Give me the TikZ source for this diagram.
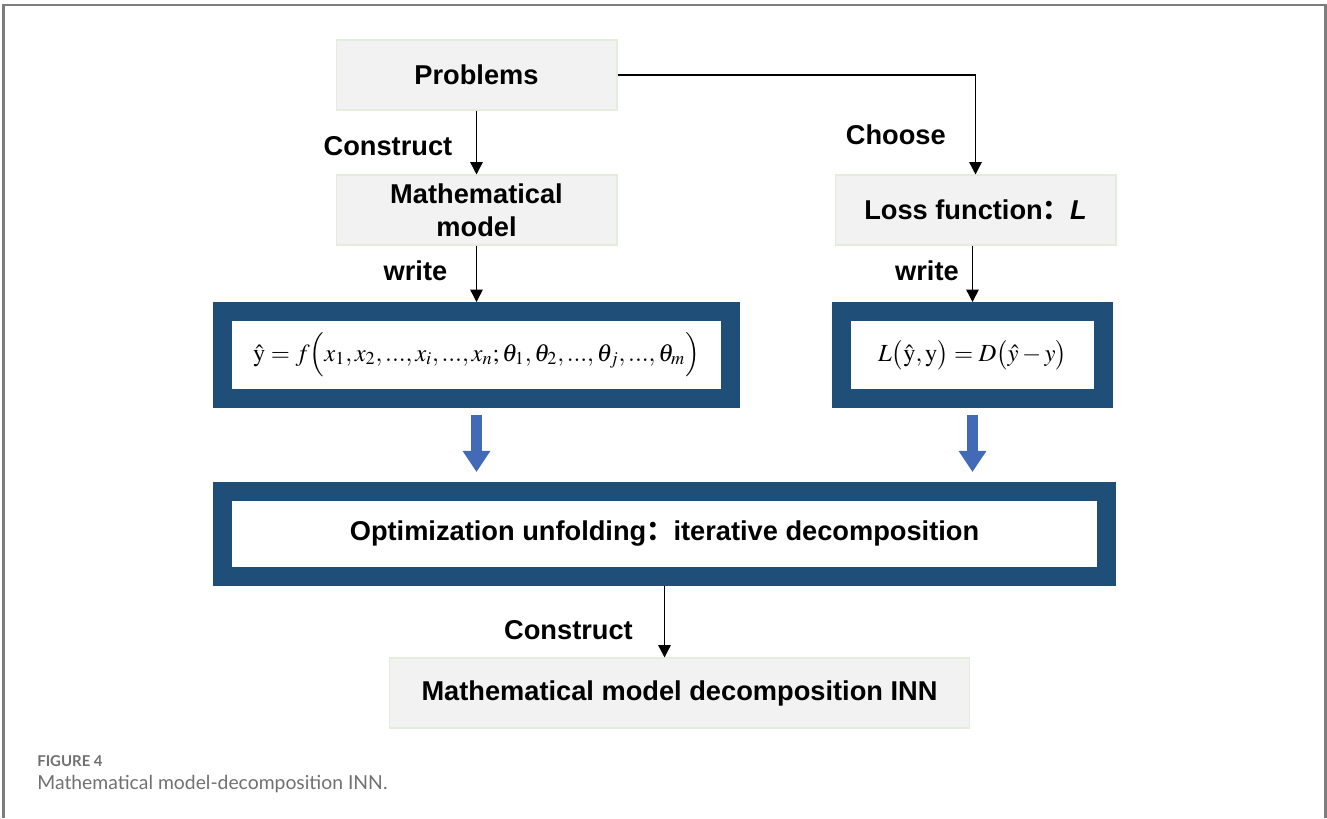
\documentclass[tikz,border=0pt]{standalone}
\usepackage{mathptmx}
\usepackage{fontspec}
\setmainfont{Liberation Sans}
\newfontfamily\cjkfont{Noto Sans CJK SC}
\newfontfamily\capfont{Lato}
\usepackage{xcolor}
\usetikzlibrary{positioning, arrows.meta}

\definecolor{boxgray}{RGB}{242,242,242}
\definecolor{boxedge}{RGB}{228,236,222}
\definecolor{navy}{RGB}{31,78,121}
\definecolor{flowblue}{RGB}{66,106,182}
\definecolor{capgray}{RGB}{112,112,112}
\definecolor{framegray}{RGB}{125,125,125}

\begin{document}
\begin{tikzpicture}[x=0.02cm, y=-0.02cm, every node/.style={font=\fontsize{15.5}{19}\selectfont\bfseries}]
  \tikzset{
    greybox/.style={fill=boxgray, draw=boxedge, line width=0.6pt, minimum width=5.62cm, minimum height=1.4cm, align=center},
    eqbox/.style={fill=white, draw=navy, line width=0.38cm, minimum height=1.74cm, font=\fontsize{14}{16}\selectfont},
    conn/.style={draw=black, line width=0.85pt, -{Triangle[width=7pt,length=7pt]}},
    lbl/.style={anchor=east, inner sep=0pt},
    bigarrow/.style={draw=flowblue, line width=6.5pt, -{Triangle[width=15pt,length=12pt]}},
    capline/.style={anchor=base west, inner sep=0pt, text=capgray},
  }
  \useasboundingbox (0,0) rectangle (1327,818);

  %% ===== Frame =====
  \draw[framegray, line width=1.2pt] (3.5,818) -- (3.5,5) -- (1325.5,5) -- (1325.5,818);

  %% ===== Upper boxes =====
  \node[greybox] (prob) at (476.5,75) {Problems};
  \node[greybox] (model) at (476.5,210) {Mathematical\\model};
  \node[greybox] (loss) at (975.5,210) {Loss function{\cjkfont ：}\textit{L}};

  %% ===== Formula boxes =====
  \node[eqbox, minimum width=10.16cm] (fmodel) at (476.5,355)
    {$\hat{\mathrm{y}}=f\Bigl(x_1,x_2,...,x_i,...,x_n;\theta_1,\theta_2,...,\theta_j,...,\theta_m\Bigr)$\hspace{0.7cm}};
  \node[eqbox, minimum width=5.24cm] (floss) at (972.5,355)
    {$L\bigl(\hat{\mathrm{y}},\mathrm{y}\bigr)=D\bigl(\hat{y}-y\bigr)$};

  %% ===== Lower boxes =====
  \node[eqbox, minimum width=17.68cm, minimum height=1.70cm, font=\fontsize{15.5}{19}\selectfont\bfseries] (unfold) at (664.5,534)
    {Optimization unfolding{\cjkfont ：}iterative decomposition};
  \node[greybox, minimum width=11.62cm] (inn) at (679.5,693) {Mathematical model decomposition INN};

  %% ===== Connectors =====
  \draw[conn] (prob) -- node[lbl, pos=0.55, xshift=-0.47cm] (cstA) {Construct} (model);
  \draw[conn] (prob.east) -| node[lbl, pos=0.8, xshift=-0.58cm] (choose) {Choose} (loss);
  \draw[conn] (model) -- node[lbl, pos=0.45, xshift=-0.57cm] (wrA) {write} (fmodel);
  \draw[conn] (loss.south -| floss.north) -- node[lbl, pos=0.45, xshift=-0.26cm] (wrB) {write} (floss);
  \draw[conn] (unfold) -- node[lbl, pos=0.62, xshift=-0.62cm] (cstB) {Construct} (unfold.south |- inn.north);

  % blue block arrows into the unfolding box
  \draw[bigarrow] ([yshift=-0.14cm]fmodel.south) -- ([yshift=0.2cm]fmodel.south |- unfold.north);
  \draw[bigarrow] ([yshift=-0.14cm]floss.south) -- ([yshift=0.2cm]floss.south |- unfold.north);

  %% ===== Caption =====
  \node[capline, font=\capfont\bfseries\fontsize{8.5}{10}\selectfont] (fignum) at (37,766) {FIGURE 4};
  \node[capline, font=\capfont\fontsize{11}{14}\selectfont] (figcap) at (37,789) {Mathematical model-decomposition INN.};
\end{tikzpicture}
\end{document}
